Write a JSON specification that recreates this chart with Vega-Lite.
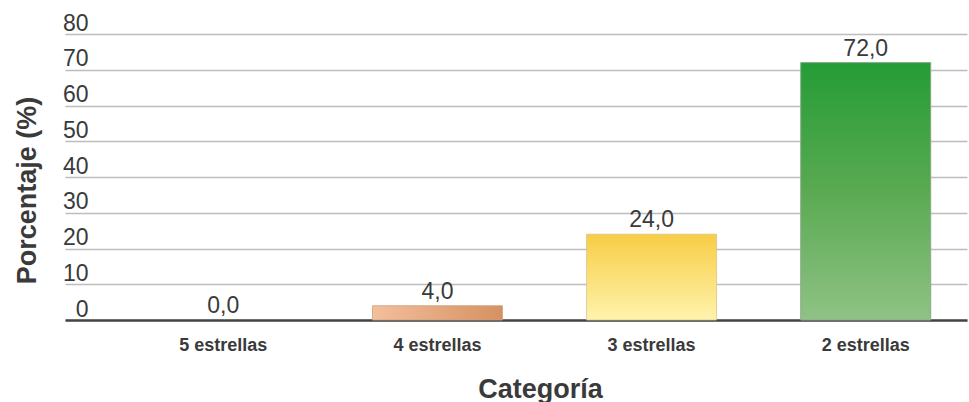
{
  "$schema": "https://vega.github.io/schema/vega-lite/v6.json",
  "width": 902,
  "height": 286,
  "autosize": {"type": "none"},
  "padding": {"left": 65, "top": 34, "right": 2, "bottom": 82},
  "background": "white",
  "config": {
    "view": {"stroke": null},
    "font": "Liberation Sans",
    "locale": {"number": {"decimal": ",", "thousands": ".", "grouping": [3], "currency": ["", " €"]}}
  },
  "data": {"values": [
    {"categoria": "5 estrellas", "porcentaje": 0.0},
    {"categoria": "4 estrellas", "porcentaje": 4.0},
    {"categoria": "3 estrellas", "porcentaje": 24.0},
    {"categoria": "2 estrellas", "porcentaje": 72.0}
  ]},
  "encoding": {
    "x": {
      "field": "categoria", "type": "nominal", "sort": null,
      "scale": {"domain": ["5 estrellas", "4 estrellas", "3 estrellas", "2 estrellas"], "paddingInner": 0.393, "paddingOuter": 0.3026, "align": 0.72},
      "axis": {
        "title": "Categoría", "labelAngle": 0, "ticks": false, "domain": true,
        "domainColor": "#444444", "domainWidth": 2.5, "grid": false,
        "labelFont": "Liberation Sans", "labelFontWeight": "bold", "labelFontSize": 18, "labelColor": "#3a3a3a", "labelPadding": 16,
        "titleFont": "Liberation Sans", "titleFontWeight": "bold", "titleFontSize": 27, "titleColor": "#3a3a3a",
        "titleX": 475, "titleY": 77, "titleAlign": "center", "titleBaseline": "alphabetic"
      }
    },
    "y": {
      "field": "porcentaje", "type": "quantitative",
      "scale": {"domain": [0, 80], "nice": false},
      "axis": {
        "title": "Porcentaje (%)", "values": [0, 10, 20, 30, 40, 50, 60, 70, 80],
        "ticks": false, "domain": false, "grid": true, "gridColor": "#bdbdbd", "gridWidth": 1.5,
        "labelAlign": "right", "labelPadding": -23, "labelBaseline": "alphabetic", "labelOffset": -4,
        "labelFont": "Liberation Sans", "labelFontSize": 23, "labelColor": "#3a3a3a",
        "titleFont": "Liberation Sans", "titleFontWeight": "bold", "titleFontSize": 27, "titleColor": "#3a3a3a",
        "titleAngle": -90, "titleX": -38, "titleY": 156, "titleAlign": "center", "titleBaseline": "middle"
      }
    }
  },
  "layer": [
    {
      "transform": [{"filter": "datum.categoria == '4 estrellas'"}],
      "mark": {"type": "bar", "stroke": "#c9a080", "strokeWidth": 0.8,
        "color": {"gradient": "linear", "x1": 0, "y1": 0, "x2": 1, "y2": 0,
          "stops": [{"offset": 0, "color": "#f3bf9c"}, {"offset": 1, "color": "#d69162"}]}}
    },
    {
      "transform": [{"filter": "datum.categoria == '3 estrellas'"}],
      "mark": {"type": "bar", "stroke": "#d9c38a", "strokeWidth": 0.8,
        "color": {"gradient": "linear", "x1": 0, "y1": 0, "x2": 0, "y2": 1,
          "stops": [{"offset": 0, "color": "#f8cd45"}, {"offset": 1, "color": "#fff3ad"}]}}
    },
    {
      "transform": [{"filter": "datum.categoria == '2 estrellas'"}],
      "mark": {"type": "bar", "stroke": "#8aa888", "strokeWidth": 1,
        "color": {"gradient": "linear", "x1": 0, "y1": 0, "x2": 0, "y2": 1,
          "stops": [{"offset": 0, "color": "#249c36"}, {"offset": 0.5, "color": "#5aaa52"}, {"offset": 1, "color": "#8fc285"}]}}
    },
    {
      "mark": {"type": "text", "baseline": "alphabetic", "dy": -7, "fontSize": 23, "font": "Liberation Sans", "color": "#3a3a3a"},
      "encoding": {"text": {"field": "porcentaje", "type": "quantitative", "format": ".1f"}}
    }
  ]
}
